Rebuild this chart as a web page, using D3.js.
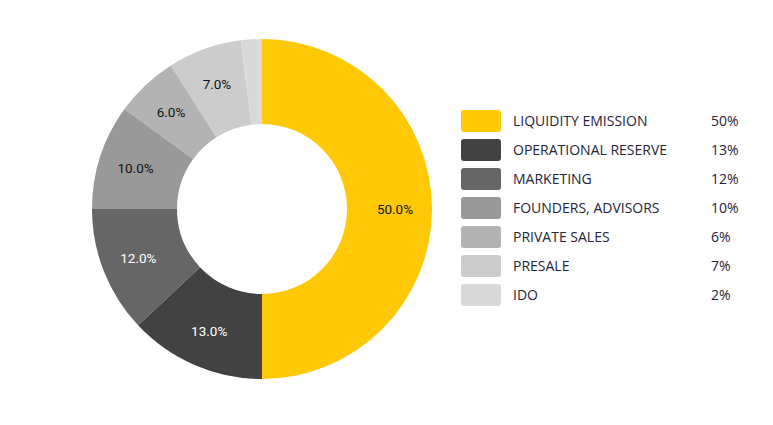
<!DOCTYPE html>
<html><head><meta charset="utf-8">
<script src="https://cdn.jsdelivr.net/npm/d3@7"></script>
<style>html,body{margin:0;padding:0;background:#fff;}svg{display:block;}</style>
</head><body>
<svg id="c" width="773" height="425"></svg>
<script>
const categories = ["LIQUIDITY EMISSION","OPERATIONAL RESERVE","MARKETING","FOUNDERS, ADVISORS","PRIVATE SALES","PRESALE","IDO"];
const values = [50, 13, 12, 10, 6, 7, 2];
const colors = ["#FFC907","#424242","#666666","#999999","#B3B3B3","#CCCCCC","#D9D9D9"];
const labelColors = ["#111","#fff","#fff","#111","#111","#111","#111"];

const svg = d3.select("#c");
const cx = 262, cy = 209, R = 170, r = 85;
const data = categories.map((c,i)=>({name:c, value:values[i], color:colors[i], lc:labelColors[i]}));
const pie = d3.pie().sort(null).value(d=>d.value);
const arc = d3.arc().innerRadius(r).outerRadius(R);
const labelArc = d3.arc().innerRadius(133).outerRadius(133);
const g = svg.append("g").attr("transform",`translate(${cx},${cy})`);
const arcs = pie(data);
g.selectAll("path").data(arcs).join("path").attr("d",arc).attr("fill",d=>d.data.color);
const total = d3.sum(values);
g.selectAll("text").data(arcs.filter(d=>d.data.value/total>=0.05)).join("text")
  .attr("transform",d=>`translate(${labelArc.centroid(d)})`)
  .attr("text-anchor","middle").attr("dy","0.35em")
  .attr("font-family","Roboto, sans-serif").attr("font-size",13.5)
  .attr("fill",d=>d.data.lc)
  .text(d=>d3.format(".1f")(d.data.value/total*100)+"%");

const lg = svg.append("g");
const y = d3.scalePoint().domain(categories).range([121,295]);
const row = lg.selectAll("g").data(data).join("g").attr("transform",d=>`translate(0,${y(d.name)})`);
row.append("rect").attr("x",461).attr("y",-11).attr("width",40).attr("height",22).attr("rx",3).attr("fill",d=>d.color);
row.append("text").attr("x",513).attr("dy","0.35em").attr("font-family","'Open Sans', sans-serif").attr("font-size",14)
  .attr("fill","#24243a").text(d=>d.name);
row.append("text").attr("x",711).attr("dy","0.35em").attr("font-family","'Open Sans', sans-serif").attr("font-size",14)
  .attr("fill","#24243a").text(d=>d.value+"%");
</script>
</body></html>
